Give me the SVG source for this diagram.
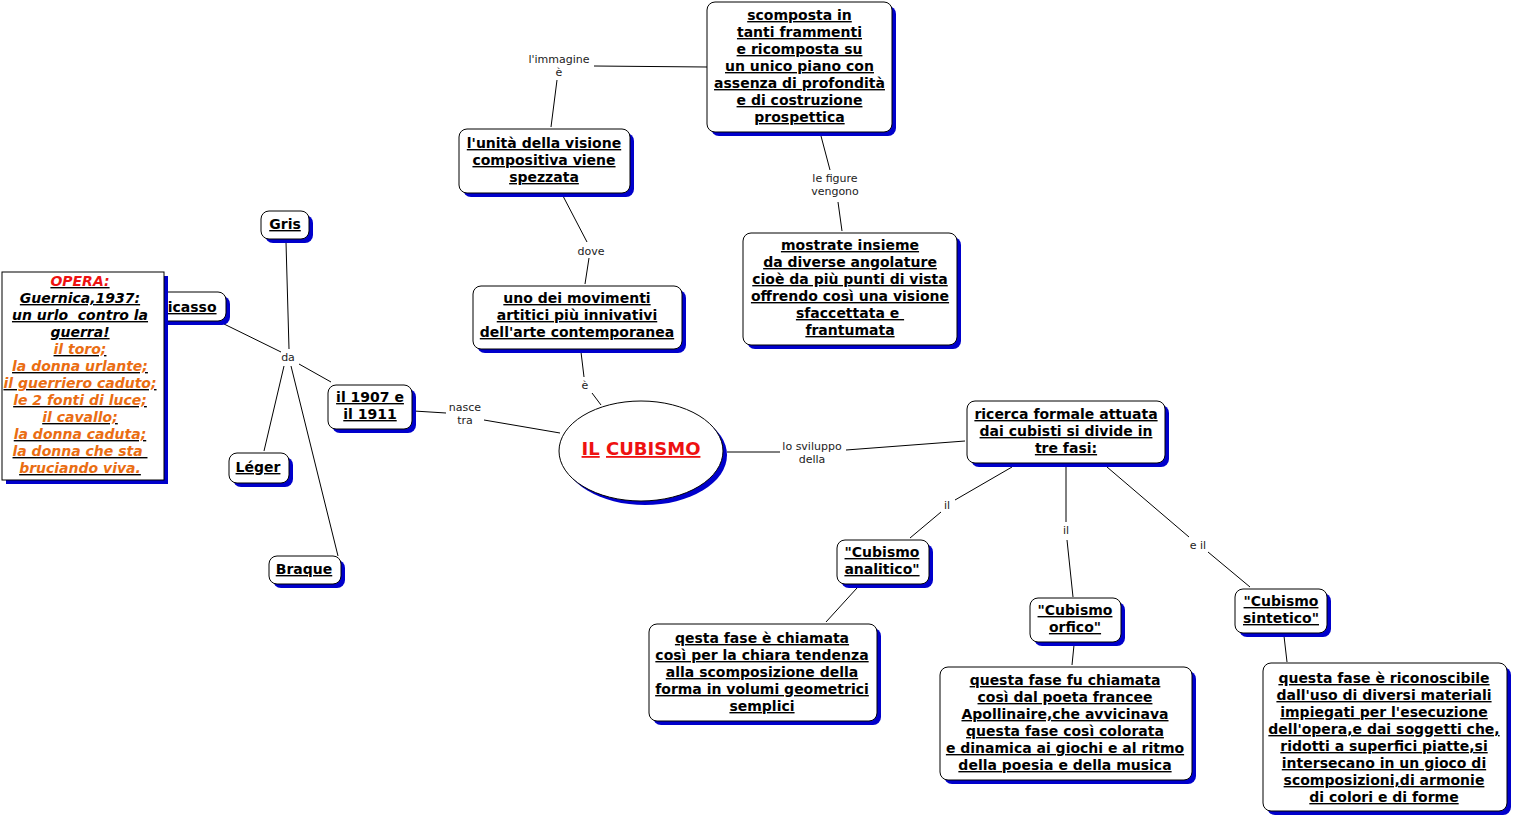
<svg xmlns="http://www.w3.org/2000/svg" width="1513" height="818" viewBox="0 0 1513 818">
<style>
.sh{fill:#0000cc}
.bx{fill:#fff;stroke:#000;stroke-width:1}
.t{font-family:"DejaVu Sans",Verdana,sans-serif;font-weight:bold;font-size:14px;text-decoration:underline;text-anchor:middle;fill:#000}
.op{font-style:italic}
.red{fill:#ee1111}
.org{fill:#ea6d12}
.lbl{font-family:"DejaVu Sans",Verdana,sans-serif;font-size:11px;text-anchor:middle;fill:#222}
.cn{stroke:#000;stroke-width:1;fill:none}
</style>
<rect width="1513" height="818" fill="#fff"/>
<g id="connectors">
<path class="cn" d="M551,127 L557,80 M594,66 L707,67"/>
<path class="cn" d="M821,136 L830,170 M838,202 L842,231"/>
<path class="cn" d="M563,196 L587,242 M589,258 L585,284"/>
<path class="cn" d="M581,352 L584,377 M592,393 L601,405"/>
<path class="cn" d="M414,411 L446,413 M484,420 L560,433"/>
<path class="cn" d="M224,324 L281,352 M286,242 L289,349 M299,364 L331,382 M284,366 L264,451 M291,366 L338,556"/>
<path class="cn" d="M727,452 L780,452 M846,450 L965,441"/>
<path class="cn" d="M1012,467 L955,500 M941,512 L910,538"/>
<path class="cn" d="M1066,467 L1066,522 M1067,540 L1073,597"/>
<path class="cn" d="M1107,467 L1189,537 M1208,552 L1250,587"/>
<path class="cn" d="M857,588 L826,622"/>
<path class="cn" d="M1074,645 L1072,665"/>
<path class="cn" d="M1284,636 L1287,662"/>
<text class="lbl" x="559" y="63">l'immagine</text>
<text class="lbl" x="559" y="76">è</text>
<text class="lbl" x="835" y="182">le figure</text>
<text class="lbl" x="835" y="195">vengono</text>
<text class="lbl" x="591" y="255">dove</text>
<text class="lbl" x="585" y="389">è</text>
<text class="lbl" x="465" y="411">nasce</text>
<text class="lbl" x="465" y="424">tra</text>
<text class="lbl" x="288" y="361">da</text>
<text class="lbl" x="812" y="450">lo sviluppo</text>
<text class="lbl" x="812" y="463">della</text>
<text class="lbl" x="947" y="509">il</text>
<text class="lbl" x="1066" y="534">il</text>
<text class="lbl" x="1198" y="549">e il</text>
</g>
<g id="n-scomposta">
<rect class="sh" x="711" y="6" width="185" height="130" rx="8"/>
<rect class="bx" x="707" y="2" width="185" height="130" rx="8"/>
<text class="t"><tspan x="799.5" y="20">scomposta in</tspan><tspan x="799.5" y="37">tanti frammenti</tspan><tspan x="799.5" y="54">e ricomposta su</tspan><tspan x="799.5" y="71">un unico piano con</tspan><tspan x="799.5" y="88">assenza di profondità</tspan><tspan x="799.5" y="105">e di costruzione</tspan><tspan x="799.5" y="122">prospettica</tspan></text>
</g>
<g id="n-unita">
<rect class="sh" x="463" y="133" width="171" height="64" rx="8"/>
<rect class="bx" x="459" y="129" width="171" height="64" rx="8"/>
<text class="t"><tspan x="544" y="148">l'unità della visione</tspan><tspan x="544" y="165">compositiva viene</tspan><tspan x="544" y="182">spezzata</tspan></text>
</g>
<g id="n-mostrate">
<rect class="sh" x="747" y="237" width="214" height="112" rx="8"/>
<rect class="bx" x="743" y="233" width="214" height="112" rx="8"/>
<text class="t" xml:space="preserve"><tspan x="850" y="250">mostrate insieme</tspan><tspan x="850" y="267">da diverse angolature</tspan><tspan x="850" y="284">cioè da più punti di vista</tspan><tspan x="850" y="301">offrendo così una visione</tspan><tspan x="850" y="318">sfaccettata e </tspan><tspan x="850" y="335">frantumata</tspan></text>
</g>
<g id="n-movimenti">
<rect class="sh" x="477" y="290" width="209" height="63" rx="8"/>
<rect class="bx" x="473" y="286" width="209" height="63" rx="8"/>
<text class="t"><tspan x="577" y="303">uno dei movimenti</tspan><tspan x="577" y="320">artitici più innivativi</tspan><tspan x="577" y="337">dell'arte contemporanea</tspan></text>
</g>
<g id="n-cubismo">
<ellipse class="sh" cx="645" cy="455" rx="82" ry="50"/>
<ellipse class="bx" cx="641" cy="451" rx="82" ry="50"/>
<text x="641" y="455" style="font-family:'DejaVu Sans',Verdana,sans-serif;font-weight:bold;font-size:18px;text-anchor:middle;fill:#ee1111"><tspan text-decoration="underline">IL</tspan> <tspan text-decoration="underline">CUBISMO</tspan></text>
</g>
<g id="n-ricerca">
<rect class="sh" x="971" y="405" width="198" height="62" rx="8"/>
<rect class="bx" x="967" y="401" width="198" height="62" rx="8"/>
<text class="t"><tspan x="1066" y="419">ricerca formale attuata</tspan><tspan x="1066" y="436">dai cubisti si divide in</tspan><tspan x="1066" y="453">tre fasi:</tspan></text>
</g>
<g id="n-anni">
<rect class="sh" x="332" y="389" width="84" height="44" rx="8"/>
<rect class="bx" x="328" y="385" width="84" height="44" rx="8"/>
<text class="t"><tspan x="370" y="402">il 1907 e</tspan><tspan x="370" y="419">il 1911</tspan></text>
</g>
<g id="n-picasso">
<rect class="sh" x="154" y="296" width="76" height="29" rx="8"/>
<rect class="bx" x="150" y="292" width="76" height="29" rx="8"/>
<text class="t" x="187" y="312">Picasso</text>
</g>
<g id="n-gris">
<rect class="sh" x="265" y="215" width="48" height="28" rx="8"/>
<rect class="bx" x="261" y="211" width="48" height="28" rx="8"/>
<text class="t" x="285" y="229">Gris</text>
</g>
<g id="n-leger">
<rect class="sh" x="233" y="457" width="60" height="30" rx="8"/>
<rect class="bx" x="229" y="453" width="60" height="30" rx="8"/>
<text class="t" x="258" y="472">Léger</text>
</g>
<g id="n-braque">
<rect class="sh" x="273" y="560" width="72" height="28" rx="8"/>
<rect class="bx" x="269" y="556" width="72" height="28" rx="8"/>
<text class="t" x="304" y="574">Braque</text>
</g>
<g id="n-opera">
<rect class="sh" x="6" y="276" width="162" height="208"/>
<rect class="bx" x="2" y="272" width="162" height="208"/>
<text class="t op" xml:space="preserve"><tspan class="red" x="80" y="286">OPERA:</tspan><tspan x="80" y="303">Guernica,1937:</tspan><tspan x="80" y="320">un urlo  contro la</tspan><tspan x="80" y="337">guerra!</tspan><tspan class="org" x="80" y="354">il toro;</tspan><tspan class="org" x="80" y="371">la donna urlante;</tspan><tspan class="org" x="80" y="388">il guerriero caduto;</tspan><tspan class="org" x="80" y="405">le 2 fonti di luce;</tspan><tspan class="org" x="80" y="422">il cavallo;</tspan><tspan class="org" x="80" y="439">la donna caduta;</tspan><tspan class="org" x="80" y="456">la donna che sta </tspan><tspan class="org" x="80" y="473">bruciando viva.</tspan></text>
</g>
<g id="n-analitico">
<rect class="sh" x="841" y="544" width="92" height="44" rx="8"/>
<rect class="bx" x="837" y="540" width="92" height="44" rx="8"/>
<text class="t"><tspan x="882" y="557">"Cubismo</tspan><tspan x="882" y="574">analitico"</tspan></text>
</g>
<g id="n-qesta">
<rect class="sh" x="653" y="628" width="228" height="97" rx="8"/>
<rect class="bx" x="649" y="624" width="228" height="97" rx="8"/>
<text class="t"><tspan x="762" y="643">qesta fase è chiamata</tspan><tspan x="762" y="660">così per la chiara tendenza</tspan><tspan x="762" y="677">alla scomposizione della</tspan><tspan x="762" y="694">forma in volumi geometrici</tspan><tspan x="762" y="711">semplici</tspan></text>
</g>
<g id="n-orfico">
<rect class="sh" x="1034" y="602" width="91" height="44" rx="8"/>
<rect class="bx" x="1030" y="598" width="91" height="44" rx="8"/>
<text class="t"><tspan x="1075" y="615">"Cubismo</tspan><tspan x="1075" y="632">orfico"</tspan></text>
</g>
<g id="n-questa-fu">
<rect class="sh" x="944" y="671" width="252" height="113" rx="8"/>
<rect class="bx" x="940" y="667" width="252" height="113" rx="8"/>
<text class="t"><tspan x="1065" y="685">questa fase fu chiamata</tspan><tspan x="1065" y="702">così dal poeta francee</tspan><tspan x="1065" y="719">Apollinaire,che avvicinava</tspan><tspan x="1065" y="736">questa fase così colorata</tspan><tspan x="1065" y="753">e dinamica ai giochi e al ritmo</tspan><tspan x="1065" y="770">della poesia e della musica</tspan></text>
</g>
<g id="n-sintetico">
<rect class="sh" x="1239" y="593" width="92" height="44" rx="8"/>
<rect class="bx" x="1235" y="589" width="92" height="44" rx="8"/>
<text class="t"><tspan x="1281" y="606">"Cubismo</tspan><tspan x="1281" y="623">sintetico"</tspan></text>
</g>
<g id="n-riconoscibile">
<rect class="sh" x="1267" y="667" width="244" height="148" rx="8"/>
<rect class="bx" x="1263" y="663" width="244" height="148" rx="8"/>
<text class="t"><tspan x="1384" y="683">questa fase è riconoscibile</tspan><tspan x="1384" y="700">dall'uso di diversi materiali</tspan><tspan x="1384" y="717">impiegati per l'esecuzione</tspan><tspan x="1384" y="734">dell'opera,e dai soggetti che,</tspan><tspan x="1384" y="751">ridotti a superfici piatte,si</tspan><tspan x="1384" y="768">intersecano in un gioco di</tspan><tspan x="1384" y="785">scomposizioni,di armonie</tspan><tspan x="1384" y="802">di colori e di forme</tspan></text>
</g>
</svg>
